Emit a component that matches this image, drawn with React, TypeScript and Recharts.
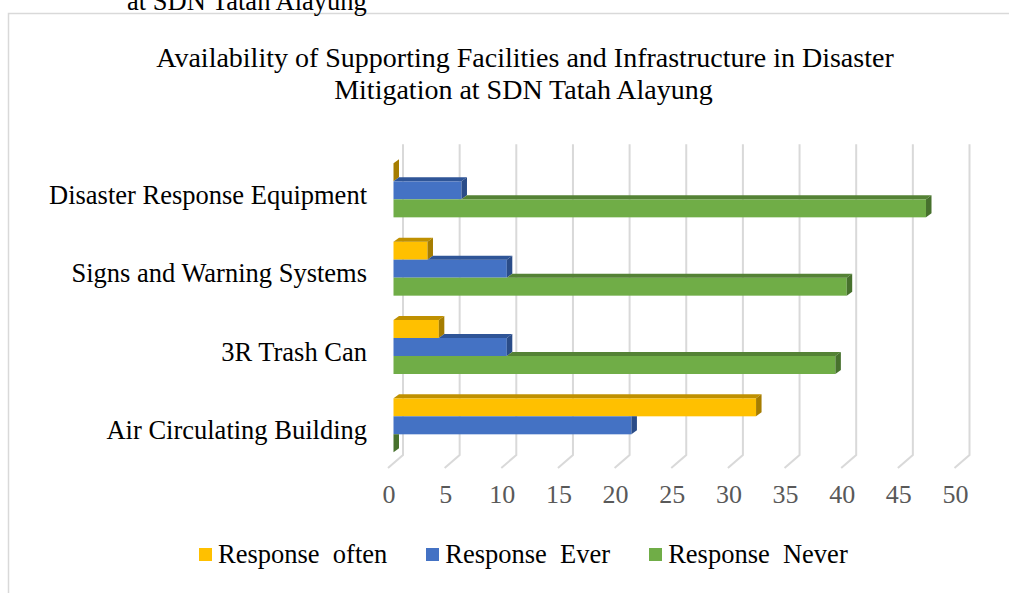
import React from 'react';
import { BarChart, Bar, XAxis, YAxis, CartesianGrid, Legend } from 'recharts';

const categories = [
  'Disaster Response Equipment',
  'Signs and Warning Systems',
  '3R Trash Can',
  'Air Circulating Building',
];
const responseOften = [0, 3, 4, 32];
const responseEver = [6, 10, 10, 21];
const responseNever = [47, 40, 39, 0];
const xTicks = [0, 5, 10, 15, 20, 25, 30, 35, 40, 45, 50];
const seriesNames = ['Response  often', 'Response  Ever', 'Response  Never'];
const titleLines = [
  'Availability of Supporting Facilities and Infrastructure in Disaster',
  'Mitigation at SDN Tatah Alayung',
];
const captionText = 'at SDN Tatah Alayung';

const data = categories.map((name, i) => ({
  name,
  often: responseOften[i],
  ever: responseEver[i],
  never: responseNever[i],
}));

const FONT = '"Liberation Serif", "Times New Roman", serif';
const DX = 5.5;
const DY = 4;

function make3DShape(key: string, aboveKey: string | null, front: string, top: string, side: string) {
  return (props: any) => {
    const { x, y, width, height, payload } = props;
    const v = payload[key];
    const w = Math.max(width || 0, 0);
    const x0 = x;
    const xe = x + w;
    const yt = y;
    const yb = y + height;
    let ae = x0;
    let clipSide = false;
    if (aboveKey) {
      const av = payload[aboveKey];
      if (v > 0) {
        const aEnd = x0 + (av * w) / v;
        ae = Math.max(x0, aEnd);
        clipSide = aEnd > xe;
      } else {
        clipSide = av > 0;
      }
    }
    const sidePts = clipSide
      ? `${xe},${yt} ${xe + DX},${yt} ${xe + DX},${yb - DY} ${xe},${yb}`
      : `${xe},${yt} ${xe + DX},${yt - DY} ${xe + DX},${yb - DY} ${xe},${yb}`;
    return (
      <g>
        {w > 0 && <rect x={x0} y={yt} width={w} height={height} fill={front} />}
        {ae < xe && (
          <polygon points={`${ae},${yt} ${ae + DX},${yt - DY} ${xe + DX},${yt - DY} ${xe},${yt}`} fill={top} />
        )}
        <polygon points={sidePts} fill={side} />
      </g>
    );
  };
}

const oftenShape = make3DShape('often', null, '#FFC000', '#BF9000', '#A67D00');
const everShape = make3DShape('ever', 'often', '#4472C4', '#2F5597', '#2A4C88');
const neverShape = make3DShape('never', 'ever', '#70AD47', '#548235', '#47712D');

const gridLine = (p: any) => {
  const { x1, y1, y2, key } = p;
  const d = `M${x1 + 9.5},${y1 - 7} L${x1 + 9.5},${y2 - 9.5} L${x1 - 5.5},${y2 + 3.5}`;
  return <path key={key} d={d} stroke="#d9d9d9" strokeWidth={2} fill="none" />;
};

const XTick = (p: any) => (
  <text x={p.x - 4.5} y={p.y + 38.5} textAnchor="middle" fill="#595959" fontSize={26} fontFamily={FONT}>
    {p.payload.value}
  </text>
);

const YTick = (p: any) => (
  <text x={p.x - 26.5} y={p.y + 13.5} textAnchor="end" fill="#000" fontSize={26.5} fontFamily={FONT}>
    {p.payload.value}
  </text>
);

const renderLegend = (props: any) => {
  const items = [...(props.payload || [])].sort(
    (a: any, b: any) => seriesNames.indexOf(a.value) - seriesNames.indexOf(b.value)
  );
  return (
    <div
      style={{
        display: 'flex',
        alignItems: 'center',
        fontFamily: FONT,
        fontSize: 26.5,
        color: '#000',
        whiteSpace: 'pre',
        lineHeight: '30px',
      }}
    >
      {items.map((e: any, i: number) => (
        <div key={i} style={{ display: 'flex', alignItems: 'center', marginRight: 39 }}>
          <span style={{ width: 13, height: 13, background: e.color, marginRight: 6, display: 'inline-block' }} />
          <span>{e.value}</span>
        </div>
      ))}
    </div>
  );
};

export default function App() {
  return (
    <div style={{ position: 'absolute', left: 0, top: 0, width: 1009, height: 593, background: '#fff' }}>
      <BarChart
        width={1009}
        height={593}
        data={data}
        layout="vertical"
        margin={{ top: 151.2, right: 49, left: 0, bottom: 88.5 }}
        barCategoryGap="15.5%"
        barGap={0}
      >
        <rect x={8.5} y={13.5} width={1010} height={600} fill="none" stroke="#d9d9d9" strokeWidth={1.5} />
        <text x={127} y={9.5} fontSize={26.5} fontFamily={FONT} fill="#000">{captionText}</text>
        <text x={525} y={67} textAnchor="middle" fontSize={28} fontFamily={FONT} fill="#000">{titleLines[0]}</text>
        <text x={523.5} y={99} textAnchor="middle" fontSize={28} fontFamily={FONT} fill="#000">{titleLines[1]}</text>
        <CartesianGrid horizontal={false} vertical={gridLine} />
        <XAxis
          type="number"
          domain={[0, 50]}
          ticks={xTicks}
          interval={0}
          axisLine={false}
          tickLine={false}
          tickSize={0}
          tickMargin={0}
          height={40}
          tick={<XTick />}
        />
        <YAxis
          type="category"
          dataKey="name"
          width={393.5}
          interval={0}
          axisLine={false}
          tickLine={false}
          tickSize={0}
          tickMargin={0}
          tick={<YTick />}
        />
        <Legend
          layout="horizontal"
          verticalAlign="middle"
          align="center"
          content={renderLegend}
          wrapperStyle={{ left: 199, top: 539, width: 'auto' }}
        />
        <Bar dataKey="often" name={seriesNames[0]} fill="#FFC000" shape={oftenShape} isAnimationActive={false} />
        <Bar dataKey="ever" name={seriesNames[1]} fill="#4472C4" shape={everShape} isAnimationActive={false} />
        <Bar dataKey="never" name={seriesNames[2]} fill="#70AD47" shape={neverShape} isAnimationActive={false} />
      </BarChart>
    </div>
  );
}
